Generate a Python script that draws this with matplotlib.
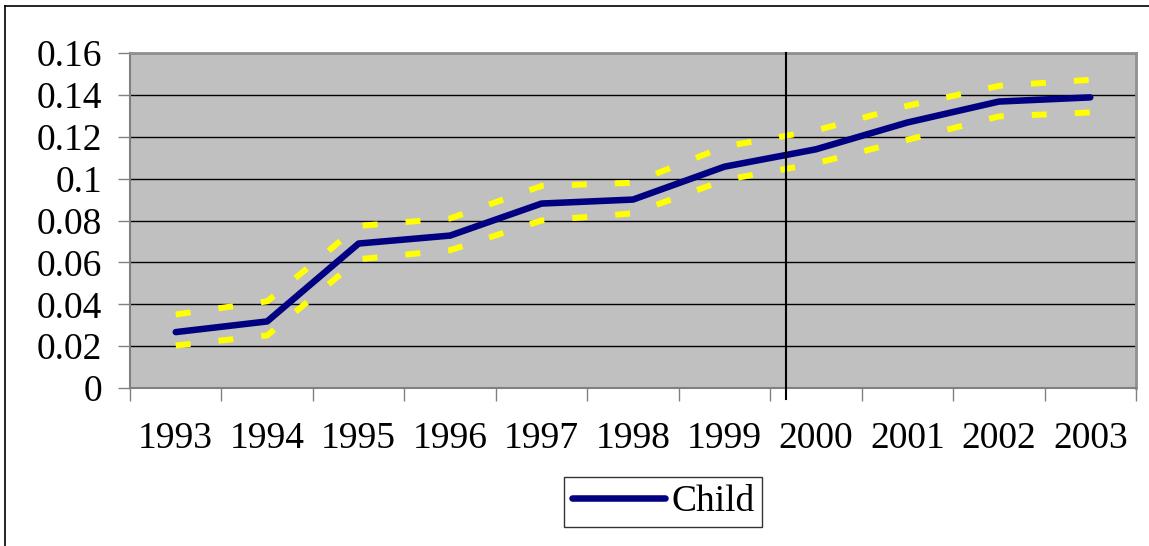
import matplotlib
matplotlib.use("Agg")
import matplotlib.pyplot as plt
from matplotlib.lines import Line2D

years = ["1993", "1994", "1995", "1996", "1997", "1998", "1999", "2000", "2001", "2002", "2003"]
child = [0.0267, 0.0318, 0.0690, 0.0728, 0.0881, 0.0900, 0.1057, 0.1140, 0.1268, 0.1368, 0.1388]
upper = [0.0351, 0.0414, 0.0774, 0.0810, 0.0965, 0.0980, 0.1153, 0.1230, 0.1348, 0.1443, 0.1472]
lower = [0.0203, 0.0251, 0.0615, 0.0658, 0.0800, 0.0834, 0.0993, 0.1073, 0.1185, 0.1297, 0.1316]
yticks = [0, 0.02, 0.04, 0.06, 0.08, 0.1, 0.12, 0.14, 0.16]
ytick_labels = ["0", "0.02", "0.04", "0.06", "0.08", "0.1", "0.12", "0.14", "0.16"]
break_pos = 6.67  # vertical separator, in category units

W, H = 1149, 546
fig = plt.figure(figsize=(W / 100, H / 100), dpi=100)
plt.rcParams['font.family'] = ['Liberation Serif', 'DejaVu Serif']
FS = 27

ax = fig.add_axes([130 / W, 1 - 388 / H, (1136 - 130) / W, (388 - 53) / H])
ax.set_facecolor("#C0C0C0")
x = list(range(len(years)))

ax.set_ylim(0, 0.16)
ax.set_xlim(-0.5, len(years) - 0.5)
ax.set_yticks(yticks)
ax.set_yticklabels(ytick_labels, fontsize=FS)
ax.yaxis.grid(True, color="black", linewidth=1.0)
ax.set_axisbelow(True)

ax.set_xticks([i - 0.5 for i in range(len(years) + 1)])
ax.set_xticklabels([])
ax.set_xticks(x, minor=True)
ax.set_xticklabels(years, minor=True, fontsize=FS)
ax.tick_params(axis="x", which="minor", length=0, pad=24)
ax.tick_params(axis="x", which="major", length=9, width=1, color="#808080", direction="out")
ax.tick_params(axis="y", which="major", length=9, width=1, color="#808080", direction="out", pad=11)

for s in ["top", "right"]:
    ax.spines[s].set_color("#909090")
    ax.spines[s].set_linewidth(2)
for s in ["left", "bottom"]:
    ax.spines[s].set_color("#808080")
    ax.spines[s].set_linewidth(1.5)

lw_band = 4.3
ax.plot(x, upper, color="#FFFF00", linewidth=lw_band, dashes=(2.5, 4.7), dash_capstyle="butt", zorder=3)
ax.plot(x, lower, color="#FFFF00", linewidth=lw_band, dashes=(2.5, 4.7), dash_capstyle="butt", zorder=3)
line, = ax.plot(x, child, color="#000080", linewidth=4.7, solid_capstyle="round", solid_joinstyle="round",
                label="Child", zorder=4)

ax.plot([break_pos, break_pos], [-0.0052, 0.16], color="black", linewidth=1.5, clip_on=False, zorder=5)

# outer chart frame
fig.add_artist(Line2D([5 / W, 5 / W], [0, 1 - 6 / H], transform=fig.transFigure, color="black", linewidth=1.2))
fig.add_artist(Line2D([5 / W, 1], [1 - 6 / H, 1 - 6 / H], transform=fig.transFigure, color="black", linewidth=1.2))

leg = fig.legend(handles=[line], labels=["Child"], loc="center",
                 bbox_to_anchor=(663 / W, 1 - 502 / H), fontsize=FS, frameon=True, fancybox=False,
                 handlelength=2.5, handletextpad=0.15, borderpad=0.2, borderaxespad=0)
leg.get_frame().set_edgecolor("black")
leg.get_frame().set_linewidth(1.0)

fig.savefig("out.png", dpi=100)
